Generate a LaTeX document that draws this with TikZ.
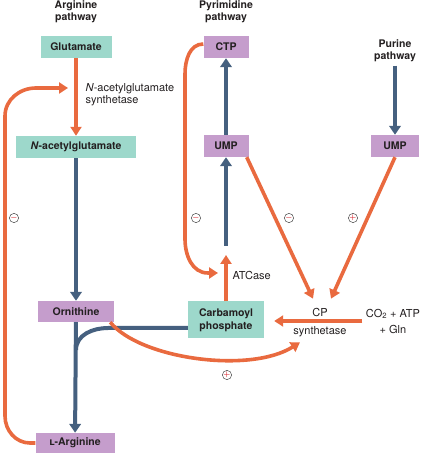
\documentclass[tikz,border=0pt]{standalone}
\usepackage{amsmath,amssymb}
\usepackage{fontspec}
\setmainfont{TeX Gyre Heros}
\usepackage{tikz}
\usetikzlibrary{arrows.meta, positioning, calc}
\definecolor{cam}{HTML}{E96A3F}
\definecolor{xanh}{HTML}{45607F}
\definecolor{ngoc}{HTML}{9DD8CB}
\definecolor{tim}{HTML}{C59DCC}
\definecolor{chu}{HTML}{231F20}
\definecolor{dauc}{HTML}{D7262F}

\begin{document}
\begin{tikzpicture}[x=1pt, y=1pt, text=chu,
    font=\fontsize{11}{12}\selectfont,
    tieude/.style={align=center, font=\fontsize{10.5}{12}\selectfont\bfseries},
    hop/.style={rectangle, inner sep=0pt, minimum height=22pt, font=\fontsize{10.5}{13}\selectfont\bfseries},
    hopxanh/.style={hop, fill=ngoc},
    hoptim/.style={hop, fill=tim},
    muicam/.style={draw=cam, line width=3.6pt, -{Triangle[length=9pt,width=11pt]}},
    muixanh/.style={draw=xanh, line width=4pt, -{Triangle[length=9pt,width=11.5pt]}},
    dau/.style={circle, draw=black!70, line width=0.5pt, inner sep=0pt, minimum size=8.5pt, text=dauc, font=\fontsize{7}{7}\selectfont\boldmath}]

            \useasboundingbox (0,0) rectangle (420,454);

            % Vẽ nhánh arginine
            \node[tieude] (argpath) at (76,442) {Arginine\\pathway};
            \node[hopxanh, minimum width=71pt] (glu) at (76,407) {Glutamate};
            \node[anchor=west, align=left] (nags) at (82,359) {\textit{N}-acetylglutamate\\synthetase};
            \node[hopxanh, minimum width=120pt] (nag) at (76,307) {\textit{N}-acetylglutamate};
            \node[hoptim, minimum width=76pt, minimum height=21pt] (orn) at (76,142.5) {Ornithine};
            \node[hoptim, minimum width=79pt, minimum height=20pt] (larg) at (75,11) {\textsc{l}-Arginine};

            % Vẽ nhánh pyrimidine và purine
            \node[tieude] (pyrpath) at (226,442) {Pyrimidine\\pathway};
            \node[hoptim, minimum width=45pt] (ctp) at (226,407) {CTP};
            \node[hoptim, minimum width=45pt] (umpl) at (226,308) {UMP};
            \node[tieude] (purpath) at (395,403) {Purine\\pathway};
            \node[hoptim, minimum width=48pt] (umpr) at (395,308) {UMP};

            % Carbamoyl phosphate và CP synthetase
            \node[hopxanh, minimum width=76pt, minimum height=37pt, align=center] (carb) at (226,134) {Carbamoyl\\phosphate};
            \node[align=center] (cps) at (320,131.5) {CP\\[6pt]synthetase};
            \node[align=center] (co2) at (393,133) {CO\textsubscript{2} + ATP\\[4pt]+ Gln};
            \node[anchor=west] (atcase) at (229,178.5) {ATCase};

            % Các điểm phụ
            \coordinate (atctip) at (226,199);
            \coordinate (atcbase) at (226,208);
            \coordinate (ctptip) at (218,181);
            \coordinate (nagstip) at (68,366);
            \coordinate (nhap) at (76,104);

            % Các mũi tên chính
            \draw[muicam] (glu) -- (nag);
            \draw[muixanh] (nag) -- (orn);
            \draw[muixanh] (orn) -- (larg);
            \draw[draw=xanh, line width=4pt] ([yshift=-8pt]carb.west) -- (108,126) to[out=180,in=90] (nhap);
            \draw[muicam] ([xshift=-4pt]orn.south east) .. controls (140,95) and (250,80) .. ([xshift=10pt,yshift=-2pt]cps.south west);
            \draw[muicam] ([xshift=-2pt]umpl.south east) -- ([xshift=-7pt,yshift=6pt]cps.north);
            \draw[muicam] (umpr.south) -- ([xshift=11pt,yshift=6pt]cps.north);
            \draw[muicam, shorten >=10pt] (co2.west) -- (co2.west -| carb.east);
            \draw[muicam] (carb) -- (atctip);
            \draw[muixanh] (atcbase) -- (umpl);
            \draw[muixanh] (umpl) -- (ctp);
            \draw[muixanh] (purpath) -- (umpr);

            % Các đường phản hồi
            \draw[muicam] ([yshift=3pt]ctp.west) to[out=180,in=90] (185,380) -- (185,215) to[out=-90,in=180] (208,181) -- (ctptip);
            \draw[muicam] (larg.west) -- (30,11) to[out=180,in=-90] (5,38) -- (5,338) to[out=90,in=180] (36,366) -- (nagstip);

            % Dấu cộng, dấu trừ
            \node[dau] (s1) at (14,236) {$-$};
            \node[dau] (s2) at (196,236) {$-$};
            \node[dau] (s3) at (289,236) {$-$};
            \node[dau] (s4) at (353,236) {$+$};
            \node[dau] (s5) at (227,79) {$+$};

\end{tikzpicture}
\end{document}
